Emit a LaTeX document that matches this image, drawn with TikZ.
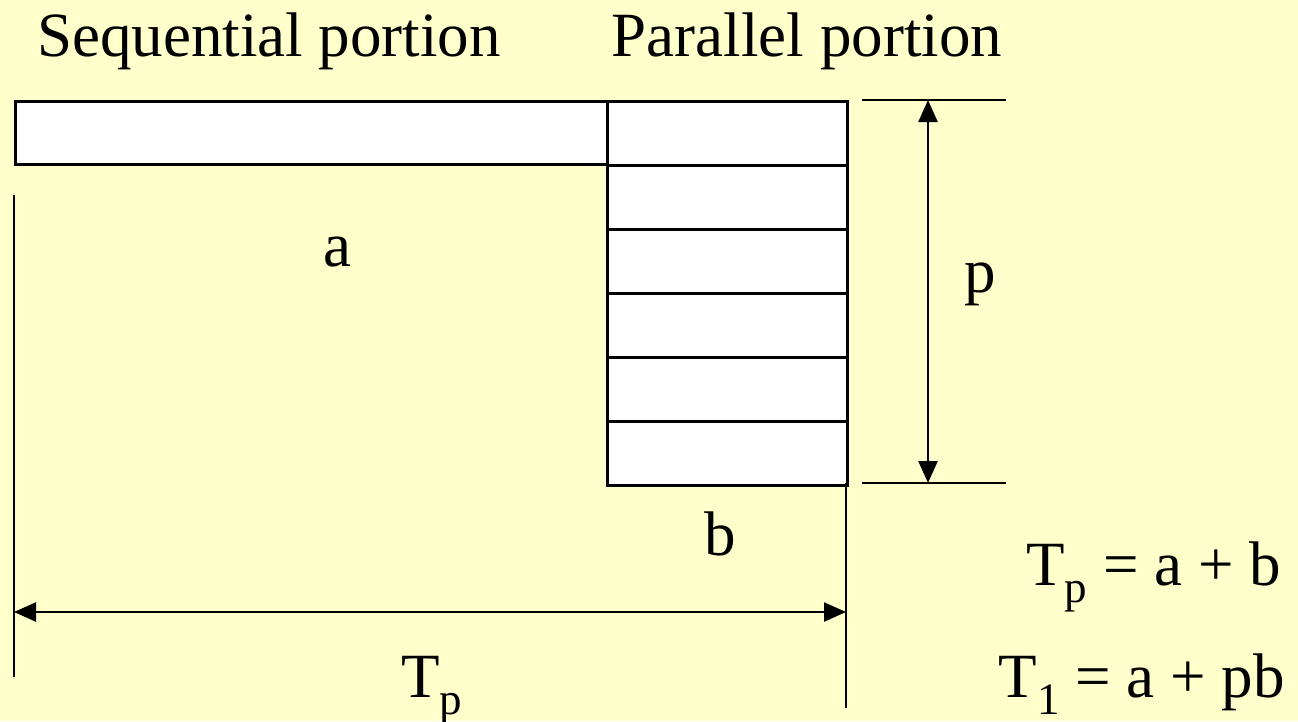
\documentclass[tikz,border=0pt]{standalone}
\usepackage{fontspec}
\setmainfont{Liberation Serif}
\usetikzlibrary{arrows.meta}
\definecolor{bgyellow}{HTML}{FFFFCC}
\newcommand\mysub[1]{\raisebox{-0.28em}{\fontsize{45}{45}\selectfont #1}}
\begin{document}
\begin{tikzpicture}[x=1pt,y=-1pt,
  box/.style={draw=black,line width=3pt,fill=white,inner sep=0pt,anchor=north west},
  lbl/.style={inner sep=0pt,anchor=base,font=\fontsize{63}{70}\selectfont},
  ln/.style={line width=2.5pt},
  dim/.style={line width=2.5pt,{Triangle[length=22pt,width=19pt]}-{Triangle[length=22pt,width=19pt]}}]
\fill[bgyellow] (0,0) rectangle (1298,721);
\useasboundingbox (0,0) rectangle (1298,721);
% sequential box
\node[box,minimum width=592pt,minimum height=63pt] (seq) at (14,100) {};
% parallel boxes
\foreach \i [evaluate=\i as \yy using 100+64*(\i-1)] in {1,...,6}{
  \node[box,minimum width=240pt,minimum height=64pt] (par\i) at (606,\yy) {};
}
% guide lines
\coordinate (l1) at (14,195); \coordinate (l2) at (14,677);
\draw[ln] (l1) -- (l2);
\coordinate (r1) at (846,483); \coordinate (r2) at (846,708);
\draw[ln] (r1) -- (r2);
\coordinate (h1a) at (862,100); \coordinate (h1b) at (1006,100);
\coordinate (h2a) at (862,483); \coordinate (h2b) at (1006,483);
\draw[ln] (h1a) -- (h1b);
\draw[ln] (h2a) -- (h2b);
% dimension arrows
\coordinate (ta) at (14,612); \coordinate (tb) at (846,612);
\draw[dim] (ta) -- (tb);
\coordinate (pa) at (928,100); \coordinate (pb) at (928,483);
\draw[dim] (pa) -- (pb);
% labels
\node[lbl] (tseq) at (269,56) {Sequential portion};
\node[lbl] (tpar) at (807,56) {Parallel portion};
\node[lbl] (la) at (337,266) {a};
\node[lbl] (lp) at (980,292) {p};
\node[lbl] (lb) at (720,555) {b};
\node[lbl] (ltp) at (432,697) {T\mysub{p}};
\node[lbl,anchor=base east] (eq1) at (1281,585) {T\mysub{p} = a + b};
\node[lbl,anchor=base east] (eq2) at (1285,697) {T\mysub{1} = a + pb};
\end{tikzpicture}
\end{document}
